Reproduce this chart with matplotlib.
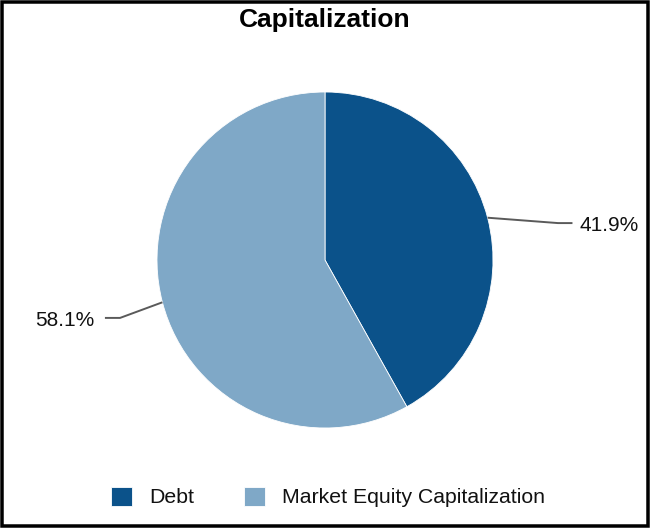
import numpy as np
import matplotlib
matplotlib.use("Agg")
import matplotlib.pyplot as plt
from matplotlib.patches import Rectangle

plt.rcParams['font.family'] = ['Liberation Sans', 'DejaVu Sans']

categories = ["Debt", "Market Equity Capitalization"]
values = [41.9, 58.1]
labels = ["41.9%", "58.1%"]
colors = ["#0b528a", "#7fa8c7"]

W, H = 650, 528
fig = plt.figure(figsize=(W / 100, H / 100), dpi=100)

# pie axes: center (325,260) px, radius 168 px
R = 168
cx, cy = 325, 260
ax = fig.add_axes([(cx - R) / W, (H - cy - R) / H, 2 * R / W, 2 * R / H])
wedges, _ = ax.pie(values, colors=colors, startangle=90, counterclock=False,
                   radius=1.0, wedgeprops=dict(edgecolor="white", linewidth=0.6))
ax.set_xlim(-1, 1)
ax.set_ylim(-1, 1)
ax.set_aspect("equal")
ax.axis("off")

# leader lines and labels (elbow offsets as style params)
elbows = [(1.387, -0.032), (-1.220, -0.093)]
ends = [1.473, -1.310]
gaps = [0.04, 0.065]
for w, lab, (ex, edy), endx, g in zip(wedges, labels, elbows, ends, gaps):
    ang = np.deg2rad((w.theta1 + w.theta2) / 2)
    x0, y0 = np.cos(ang), np.sin(ang)
    yk = y0 + edy
    ax.plot([x0, ex, endx], [y0, yk, yk], color="#5a5a5a", lw=1.4,
            clip_on=False, solid_capstyle="butt")
    ha = "left" if endx > 0 else "right"
    tx = endx + (g if endx > 0 else -g)
    ax.text(tx, yk - 0.014, lab, ha=ha, va="center", fontsize=15,
            color="#111111", clip_on=False)

fig.text(0.5, 1 - 20 / H, "Capitalization", ha="center", va="center",
         fontsize=19, fontweight="bold", color="black")

leg = fig.legend(wedges, categories, loc="center", ncol=2,
                 bbox_to_anchor=(0.505, 1 - 497 / H), frameon=False,
                 fontsize=15.3, handlelength=1.0, handleheight=1.0,
                 handletextpad=0.8, columnspacing=2.35)
for t in leg.get_texts():
    t.set_color("#111111")

# outer border
lw_px = 3.5
fig.patches.append(Rectangle((lw_px / 2 / W, lw_px / 2 / H),
                             1 - lw_px / W, 1 - lw_px / H,
                             transform=fig.transFigure, fill=False,
                             edgecolor="black", linewidth=lw_px * 72 / 100))

fig.savefig("out.png", dpi=100)
